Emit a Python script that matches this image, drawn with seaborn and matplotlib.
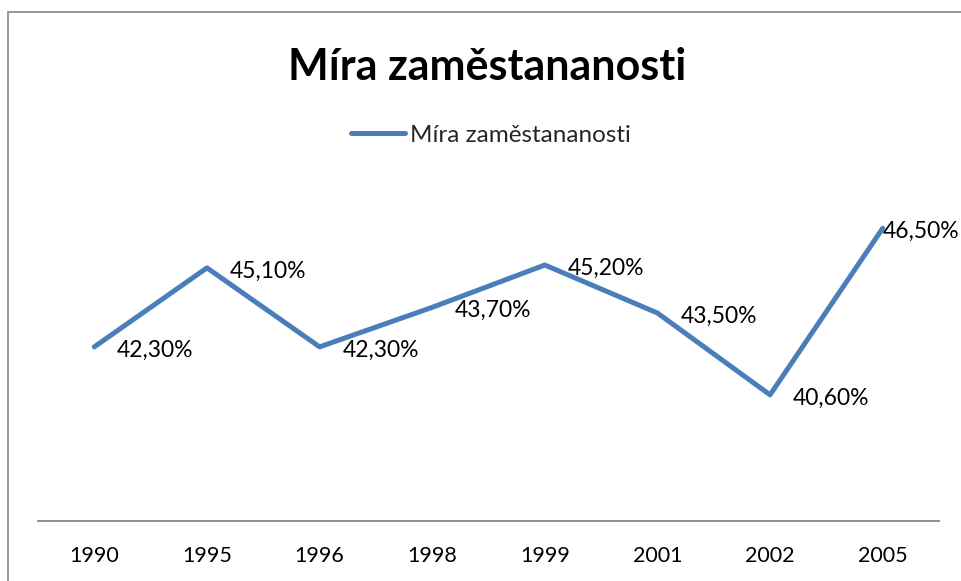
import numpy as np
import pandas as pd
import seaborn as sns
from matplotlib import pyplot as plt
from matplotlib.patches import Rectangle

roky = ['1990', '1995', '1996', '1998', '1999', '2001', '2002', '2005']
mira = [42.3, 45.1, 42.3, 43.7, 45.2, 43.5, 40.6, 46.5]
nazev = 'Míra zaměstananosti'

if __name__ == '__main__':
    sns.set_style('white')
    plt.rcParams['font.family'] = ['Lato', 'DejaVu Sans']

    df = pd.DataFrame({'rok': roky, 'mira': mira})

    fig = plt.figure(figsize=(9.62, 5.81), dpi=100)
    ax = fig.add_axes([38 / 962, 60 / 581, 901 / 962, 335 / 581])

    sns.lineplot(data=df, x='rok', y='mira', color='#4a7ebb', linewidth=3.6,
                 label=nazev, ax=ax, legend=False)

    ax.set_xlim(-0.5, len(roky) - 0.5)
    ax.set_ylim(36.13, 48)
    ax.set_yticks([])
    ax.set_xlabel('')
    ax.set_ylabel('')
    for s in ['left', 'right', 'top']:
        ax.spines[s].set_visible(False)
    ax.spines['bottom'].set_color('#868686')
    ax.spines['bottom'].set_linewidth(1.3)
    ax.tick_params(axis='x', length=0, pad=18, labelsize=15.5, colors='black')

    # popisky hodnot
    for i, v in enumerate(mira):
        txt = f'{v:.2f}%'.replace('.', ',')
        dx = 16.5 if i < len(mira) - 1 else 0
        ax.annotate(txt, (i, v), xytext=(dx, -2.5), textcoords='offset points',
                    ha='left', va='center', fontsize=16.5, color='black')

    fig.text(0.506, 1 - 67 / 581, nazev, ha='center', va='center',
             fontsize=31, fontweight='bold', color='black')

    h, l = ax.get_legend_handles_labels()
    fig.legend(h, l, loc='center', bbox_to_anchor=(491 / 962, 1 - 135 / 581),
               frameon=False, fontsize=17.5, handlelength=2.2, handletextpad=0.2)

    fig.patches.append(Rectangle((8 / 962, -0.1), 1.2, 0.1 + 569 / 581,
                                 transform=fig.transFigure, fill=False,
                                 edgecolor='#888888', linewidth=1.2))

    plt.savefig('out.png', dpi=100)
